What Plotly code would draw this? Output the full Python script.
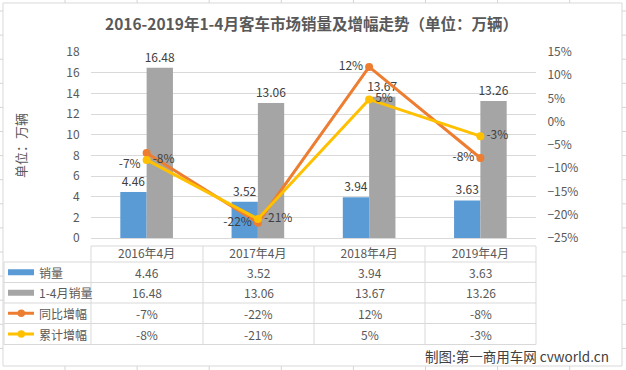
import plotly.graph_objects as go

W, H = 626, 370

# ---------------- data ----------------
categories = ["2016年4月", "2017年4月", "2018年4月", "2019年4月"]
april_sales = [4.46, 3.52, 3.94, 3.63]          # 销量 (万辆)
jan_apr_sales = [16.48, 13.06, 13.67, 13.26]    # 1-4月销量 (万辆)
yoy_growth = [-0.067, -0.217, 0.118, -0.078]    # 同比增幅
cum_growth = [-0.082, -0.209, 0.048, -0.031]    # 累计增幅
series_names = ["销量", "1-4月销量", "同比增幅", "累计增幅"]
title_text = "2016-2019年1-4月客车市场销量及增幅走势（单位：万辆）"
y_title = "单位：万辆"
credit = "制图:第一商用车网 cvworld.cn"

# ---------------- style ----------------
BLUE, GRAY, ORANGE, YELLOW = "#5B9BD5", "#A5A5A5", "#ED7D31", "#FFC000"
FONT = "Noto Sans CJK SC, Microsoft YaHei, sans-serif"
TXT = "#595959"
DARK = "#404040"
LINE = "#D9D9D9"

PL, PR, PT, PB = 91, 536, 52, 238   # plot area in pixels


def px(x):
    return (x - PL) / (PR - PL)


def py(y):
    return (PB - y) / (PB - PT)


fig = go.Figure()

fig.add_trace(go.Bar(
    x=categories, y=april_sales, name=series_names[0],
    marker=dict(color=BLUE, line=dict(width=0)),
    text=[f"{v:.2f}" for v in april_sales], textposition="outside",
    constraintext="none",
    textfont=dict(size=12, color=DARK, family=FONT), cliponaxis=False,
    showlegend=False))
fig.add_trace(go.Bar(
    x=categories, y=jan_apr_sales, name=series_names[1],
    marker=dict(color=GRAY, line=dict(width=0)),
    text=[f"{v:.2f}" for v in jan_apr_sales], textposition="outside",
    constraintext="none",
    textfont=dict(size=12, color=DARK, family=FONT), cliponaxis=False,
    showlegend=False))
fig.add_trace(go.Scatter(
    x=categories, y=yoy_growth, name=series_names[2], yaxis="y2",
    mode="lines+markers+text",
    line=dict(color=ORANGE, width=3), marker=dict(color=ORANGE, size=8),
    texttemplate="%{y:.0%}",
    textposition=["bottom left", "middle left", "middle left", "middle left"],
    textfont=dict(size=12, color=DARK, family=FONT), cliponaxis=False,
    showlegend=False))
fig.add_trace(go.Scatter(
    x=categories, y=cum_growth, name=series_names[3], yaxis="y2",
    mode="lines+markers+text",
    line=dict(color=YELLOW, width=3), marker=dict(color=YELLOW, size=8),
    texttemplate="%{y:.0%}", textposition="middle right",
    textfont=dict(size=12, color=DARK, family=FONT), cliponaxis=False,
    showlegend=False))

# ---------------- shapes ----------------
shapes = []
# spreadsheet grid behind the chart
gx = [65 + 72.1 * i for i in range(8)]
gy = [11 + 24.1 * i for i in range(16)]
for x in gx:
    shapes.append(dict(type="line", xref="paper", yref="paper", layer="below",
                       x0=px(x), x1=px(x), y0=py(H), y1=py(0),
                       line=dict(color="#D4D4D4", width=1)))
for y in gy:
    shapes.append(dict(type="line", xref="paper", yref="paper", layer="below",
                       x0=px(0), x1=px(W), y0=py(y), y1=py(y),
                       line=dict(color="#D4D4D4", width=1)))
# chart area
shapes.append(dict(type="rect", xref="paper", yref="paper", layer="below",
                   x0=px(3), x1=px(622), y0=py(366), y1=py(3),
                   fillcolor="white", line=dict(color=LINE, width=1)))

# data table grid
row_lines = [246, 262, 282.5, 303, 323.5, 344.5]
col_lines = [PL, 203, 314, 425, PR]
for i, y in enumerate(row_lines):
    x0 = PL if i == 0 else 4
    shapes.append(dict(type="line", xref="paper", yref="paper",
                       x0=px(x0), x1=px(PR), y0=py(y), y1=py(y),
                       line=dict(color=LINE, width=1)))
for x in col_lines:
    shapes.append(dict(type="line", xref="paper", yref="paper",
                       x0=px(x), x1=px(x), y0=py(row_lines[0]), y1=py(row_lines[-1]),
                       line=dict(color=LINE, width=1)))
shapes.append(dict(type="line", xref="paper", yref="paper",
                   x0=px(4), x1=px(4), y0=py(row_lines[1]), y1=py(row_lines[-1]),
                   line=dict(color=LINE, width=1)))

row_centers = [(row_lines[i] + row_lines[i + 1]) / 2 for i in range(1, 5)]
key_colors = [BLUE, GRAY, ORANGE, YELLOW]
for i, (yc, c) in enumerate(zip(row_centers, key_colors)):
    if i < 2:
        shapes.append(dict(type="rect", xref="paper", yref="paper",
                           x0=px(8), x1=px(34), y0=py(yc + 3), y1=py(yc - 3),
                           fillcolor=c, line=dict(width=0)))
    else:
        shapes.append(dict(type="line", xref="paper", yref="paper",
                           x0=px(8), x1=px(34), y0=py(yc), y1=py(yc),
                           line=dict(color=c, width=3)))
        shapes.append(dict(type="circle", xref="paper", yref="paper",
                           x0=px(17.5), x1=px(25), y0=py(yc + 3.7), y1=py(yc - 3.7),
                           fillcolor=c, line=dict(color=c, width=0)))

# ---------------- annotations ----------------
ann = []
ann.append(dict(text=f"<b>{title_text}</b>", xref="paper", yref="paper",
                x=px(311.5), y=py(23), xanchor="center", yanchor="middle",
                showarrow=False, font=dict(size=15.5, color=TXT, family=FONT)))
ann.append(dict(text=y_title, xref="paper", yref="paper", textangle=-90,
                x=px(20), y=py(146), xanchor="center", yanchor="middle",
                showarrow=False, font=dict(size=13, color=TXT, family=FONT)))
col_centers = [(col_lines[i] + col_lines[i + 1]) / 2 for i in range(4)]
rows = [
    [f"{v:.2f}" for v in april_sales],
    [f"{v:.2f}" for v in jan_apr_sales],
    [f"{round(v * 100):.0f}%" for v in yoy_growth],
    [f"{round(v * 100):.0f}%" for v in cum_growth],
]
for name, yc, vals in zip(series_names, row_centers, rows):
    ann.append(dict(text=name, xref="paper", yref="paper", x=px(37), y=py(yc),
                    xanchor="left", yanchor="middle", showarrow=False,
                    font=dict(size=12, color=TXT, family=FONT)))
    for xc, t in zip(col_centers, vals):
        ann.append(dict(text=t, xref="paper", yref="paper", x=px(xc), y=py(yc),
                        xanchor="center", yanchor="middle", showarrow=False,
                        font=dict(size=12, color=TXT, family=FONT)))
ann.append(dict(text=credit, xref="paper", yref="paper", x=px(611), y=py(356),
                xanchor="right", yanchor="middle", showarrow=False,
                font=dict(size=13.5, color=DARK, family=FONT)))

fig.update_layout(
    width=W, height=H,
    margin=dict(l=PL, r=W - PR, t=PT, b=H - PB, pad=0),
    paper_bgcolor="white", plot_bgcolor="rgba(0,0,0,0)",
    font=dict(family=FONT, size=12, color=TXT),
    barmode="group", bargap=0.527, bargroupgap=0,
    showlegend=False,
    shapes=shapes, annotations=ann,
    xaxis=dict(type="category", range=[-0.5, 3.5], showgrid=False, zeroline=False,
               showline=False, ticks="outside", ticklen=5,
               tickcolor="rgba(0,0,0,0)", tickfont=dict(size=12, color=TXT)),
    yaxis=dict(range=[0, 18], dtick=2, tick0=0, showgrid=True, gridcolor=LINE,
               gridwidth=1, zeroline=True, zerolinecolor=LINE, zerolinewidth=1,
               showline=False, ticks="outside", ticklen=8,
               tickcolor="rgba(0,0,0,0)", tickfont=dict(size=12, color=TXT)),
    yaxis2=dict(range=[-0.25, 0.15], dtick=0.05, tick0=-0.25, overlaying="y",
                side="right", tickformat=".0%", showgrid=False, zeroline=False,
                showline=False, ticks="outside", ticklen=8,
                tickcolor="rgba(0,0,0,0)", tickfont=dict(size=12, color=TXT)),
)

fig.write_html(
    "out.html",
    config={"displayModeBar": False},
    post_script="document.body.style.margin='0';document.body.style.overflow='hidden';",
)
